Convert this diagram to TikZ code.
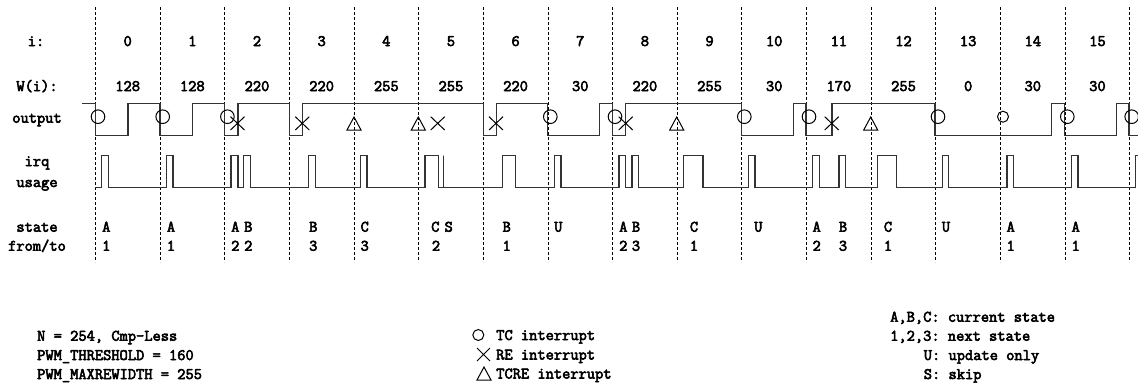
\documentclass[tikz,border=0pt]{standalone}
\usepackage{fontspec}
\setmonofont{Latin Modern Mono}[FakeBold=3.5]
\usepackage{tikz}
\definecolor{wave}{HTML}{333333}
\begin{document}
\begin{tikzpicture}[
  x=1pt,y=-1pt,
  font=\fontsize{16}{18}\ttfamily,
  caption/.style={inner sep=0pt,anchor=base},
  note/.style={inner sep=0pt,anchor=base west},
  slotline/.style={draw=black,densely dashed,line width=0.9pt},
  trace/.style={draw=wave,line width=1.4pt},
  symb/.style={draw=black,line width=1pt}
]
\useasboundingbox (0,0) rectangle (1138,384);
\clip (0,0) rectangle (1138,384);
% --- slot boundaries ------------------------------------------------------
\foreach \k in {0,...,16}{
  \draw[slotline] ({95.4+64.65*\k},7) -- ({95.4+64.65*\k},262);
}
% --- row captions ---------------------------------------------------------
\node[caption] (ci) at (36,46) {i:};
\node[caption] (cw) at (37,91) {W(i):};
\node[caption] (co) at (37,122.7) {output};
\node[caption] (cq) at (37,166) {irq};
\node[caption] (cu) at (37,187) {usage};
\node[caption] (cs) at (37,231.7) {state};
\node[caption] (cf) at (37,250.7) {from/to};
% --- slot numbers and widths ----------------------------------------------
\foreach \k/\w in {0/128,1/128,2/220,3/220,4/255,5/255,6/220,7/30,8/220,9/255,10/30,11/170,12/255,13/0,14/30,15/30}{
  \node[caption] (i\k) at ({127.7+64.65*\k},46) {\k};
  \node[caption] (w\k) at ({127.7+64.65*\k},91) {\w};
}
% --- output trace ---------------------------------------------------------
\draw[trace] (82,103.5) -- (95.4,103.5) |- (128,135.5) |- (160,103.5)
  |- (192.7,135.5) |- (224.7,103.5) |- (238,135.5) |- (289.3,103.5)
  |- (302.3,135.5) |- (483.3,103.5) |- (496.3,135.5) |- (547.7,103.5)
  |- (599.3,135.5) |- (612.3,103.5) |- (625.3,135.5) |- (741.7,103.5)
  |- (793.3,135.5) |- (806,103.5) |- (832,135.5) |- (935,103.5)
  |- (1051.7,135.5) |- (1064.3,103.5) |- (1116.3,135.5) |- (1129,103.5)
  |- (1138,135.5);
% --- irq trace ------------------------------------------------------------
\draw[trace] (95.4,187.5) \foreach \a/\b in {101.7/108.7,166.3/173,231/238,243.7/250.3,308.7/315.3,360.7/367,
    425/438.3,443.3/443.3,502.3/515.7,554.3/561,619/625.7,632/638.3,683.7/703,748.3/755,812.7/819.3,
    839/845.3,877.3/896.7,942.3/948.7,1007/1013.3,1071.7/1078}{
    -- (\a,187.5) -- (\a,155.5) -- (\b,155.5) -- (\b,187.5)
  } -- (1135.7,187.5) -- (1135.7,155.5) -- (1138,155.5);
% --- interrupt marks ------------------------------------------------------
\foreach \x in {98,162.7,227.4,550.3,615,744.3,809,938,1067.3,1131.7}{
  \draw[symb] (\x,116.7) circle (6.8);
}
\draw[symb] (1003,116.7) circle (5.5);
\foreach \x in {237.5,302.3,437.7,496,625.7,831.7}{
  \draw[symb] (\x-7,116.7) -- (\x+7,130) (\x-7,130) -- (\x+7,116.7);
}
\foreach \x in {354,418.3,676.7,870.7}{
  \draw[symb] (\x,117) -- (\x+7,130) -- (\x-7,130) -- cycle;
}
% --- state letters --------------------------------------------------------
\foreach \x/\s [count=\n] in {106.3/A,171/A,235.3/A,248.3/B,313.3/B,364.7/C,435.3/C,448.7/S,506.7/B,558.3/U,623.3/A,
    636/B,694/C,758.3/U,816.7/A,843/B,888/C,946/U,1010.7/A,1075.7/A}{
  \node[caption] (from\n) at (\x,231.7) {\s};
}
\foreach \x/\s [count=\n] in {106.3/1,171/1,235.3/2,248.3/2,313.3/3,364.7/3,436/2,506.7/1,623.3/2,
    636/3,694/1,816.7/2,843/3,888/1,1010.7/1,1075.7/1}{
  \node[caption] (to\n) at (\x,250.7) {\s};
}
% --- notes ----------------------------------------------------------------
\node[note] (n1) at (37,340.7) {N = 254, Cmp-Less};
\node[note] (n2) at (37,360) {PWM\_THRESHOLD = 160};
\node[note] (n3) at (37,379) {PWM\_MAXREWIDTH = 255};
\draw[symb] (478.3,335) circle (5.5);
\draw[symb] (477,348) -- (490,361) (477,361) -- (490,348);
\draw[symb] (484,367) -- (491,380) -- (477,380) -- cycle;
\node[note] (l1) at (496,340) {TC interrupt};
\node[note] (l2) at (496,359.5) {RE interrupt};
\node[note] (l3) at (496,378.5) {TCRE interrupt};
\node[note] (k1) at (890,321.7) {A,B,C: current state};
\node[note] (k2) at (890,340.7) {1,2,3: next state};
\node[note] (k3) at (923.6,360) {U: update only};
\node[note] (k4) at (923.6,379) {S: skip};
\end{tikzpicture}
\end{document}
